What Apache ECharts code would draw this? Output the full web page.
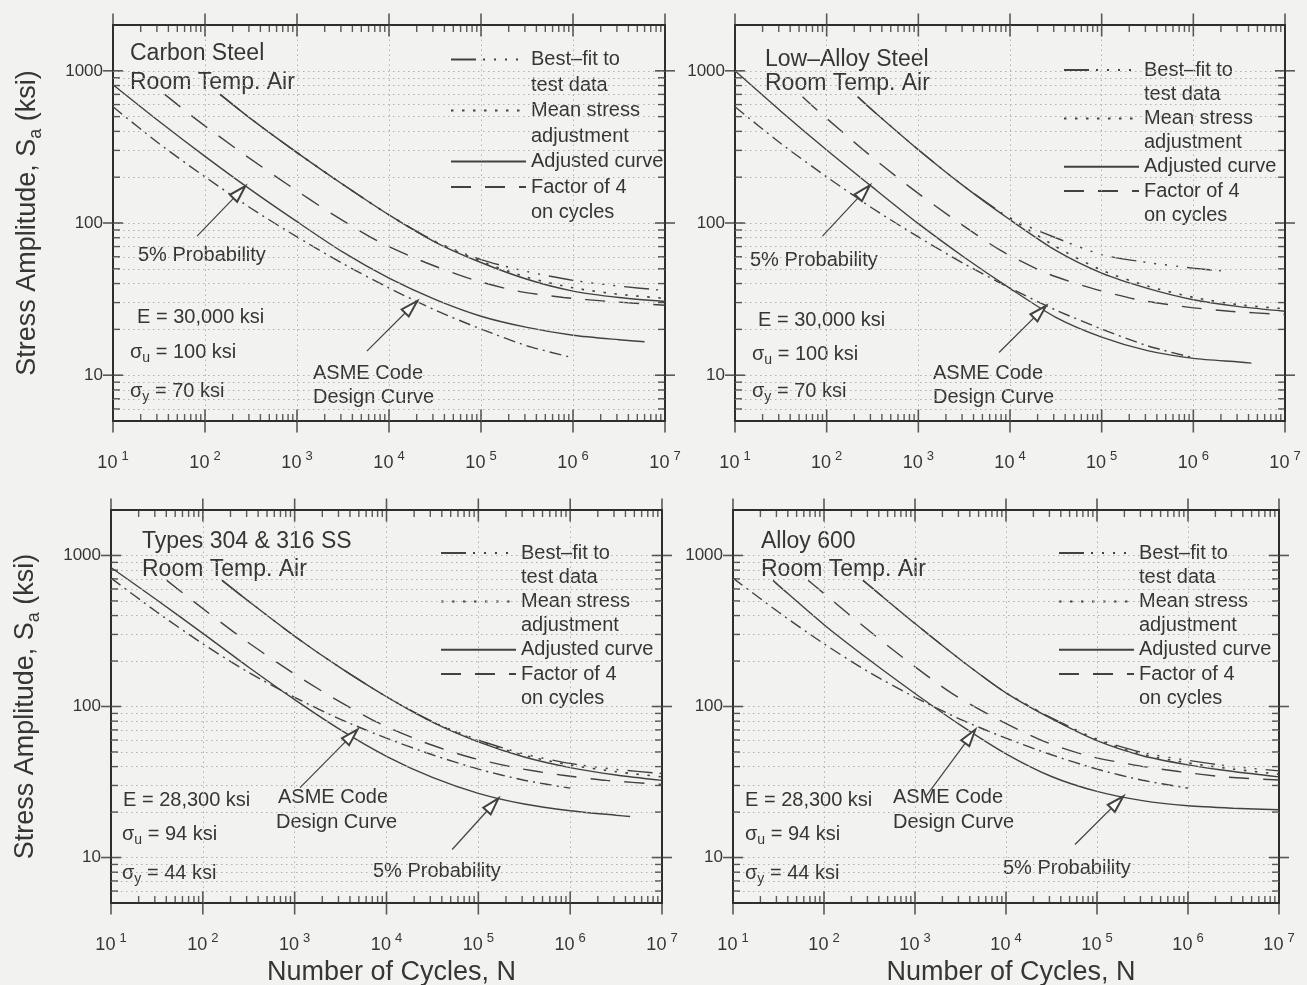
<!DOCTYPE html>
<html>
<head>
<meta charset="utf-8">
<title>Fatigue S-N curves in room-temperature air</title>
<script src="https://cdn.jsdelivr.net/npm/echarts@6/dist/echarts.min.js"></script>
<style>
  html, body { margin: 0; padding: 0; background: #f2f2f0; }
  #chart { width: 1307px; height: 985px; }
</style>
</head>
<body>
<div id="chart"></div>
<script>
// ---------- axis values ----------
const xTickExponents = [1, 2, 3, 4, 5, 6, 7];
const yTickLabels = ['10', '100', '1000'];
const minorSteps = [2, 3, 4, 5, 6, 7, 8, 9];
const X_MIN = 10, X_MAX = 1e7, Y_MIN = 5, Y_MAX = 2000;

// ---------- Carbon steel (cycles, stress amplitude in ksi) ----------
const csFitN  = [146, 316, 1000, 3160, 1e4, 31600, 1e5, 316000, 1e6, 3.16e6, 1e7];
const csFitS  = [700, 483, 290, 179, 113, 76, 57.5, 48, 42, 38.5, 36];
const csMeanN = [1000, 3160, 1e4, 31600, 1e5, 316000, 1e6, 3.16e6, 1e7];
const csMeanS = [290, 179, 113, 75.5, 56, 44, 37.5, 34, 32];
const csAdjN  = [146, 316, 1000, 3160, 1e4, 31600, 1e5, 316000, 1e6, 3.16e6, 1e7];
const csAdjS  = [700, 483, 290, 179, 113, 75, 55, 42.7, 35.7, 32.4, 30.5];
const csF4N   = [36.5, 79, 250, 790, 2500, 7900, 25000, 79000, 250000, 790000, 2.5e6, 1e7];
const csF4S   = [700, 483, 290, 179, 113, 75, 55, 42.7, 35.7, 32.4, 30.5, 28.8];
const csP5N   = [10, 31.6, 100, 316, 1000, 3160, 1e4, 31600, 1e5, 316000, 1e6, 3.16e6, 6e6];
const csP5S   = [810, 466, 274, 165, 102, 64.3, 43.4, 31.5, 24.4, 20.6, 18.3, 17.1, 16.6];

// ---------- Low-alloy steel ----------
const lasFitN  = [218, 316, 1000, 3160, 1e4, 31600, 1e5, 316000, 1e6, 2e6];
const lasFitS  = [676, 551, 303, 174, 108, 80, 62, 55, 50.5, 48.5];
const lasMeanN = [1e4, 31600, 1e5, 316000, 1e6, 3.16e6, 1e7];
const lasMeanS = [108, 70, 49, 38.5, 32.5, 29, 27.3];
const lasAdjN  = [218, 316, 1000, 3160, 1e4, 31600, 1e5, 316000, 1e6, 3.16e6, 1e7];
const lasAdjS  = [676, 551, 303, 174, 105, 66, 46.8, 37.2, 31.3, 28.2, 26.3];
const lasF4N   = [54.5, 79, 250, 790, 2500, 7900, 25000, 79000, 250000, 790000, 2.5e6, 1e7];
const lasF4S   = [676, 551, 303, 174, 105, 66, 46.8, 37.2, 31.3, 28.2, 26.3, 25];
const lasP5N   = [10, 31.6, 100, 316, 1000, 3160, 1e4, 31600, 1e5, 316000, 1e6, 3.16e6, 4.3e6];
const lasP5S   = [1000, 543, 302, 172, 99, 59.6, 37.2, 24, 17.8, 14.5, 12.9, 12.2, 12.0];

// ---------- ASME design curve for carbon & low-alloy steels ----------
const asmeCsN = [10, 31.6, 100, 316, 1000, 3160, 1e4, 31600, 1e5, 316000, 1e6];
const asmeCsS = [580, 333, 201, 125, 81, 54, 37.4, 26.8, 20.1, 15.6, 13];

// ---------- Types 304 & 316 stainless steel ----------
const ssFitN  = [162, 316, 1000, 3160, 1e4, 31600, 1e5, 316000, 1e6, 3.16e6, 1e7];
const ssFitS  = [684, 497, 292, 180, 116, 79.5, 60, 48.5, 42, 38.3, 36];
const ssMeanN = [1e4, 31600, 1e5, 316000, 1e6, 3.16e6, 1e7];
const ssMeanS = [116, 79, 59.2, 47.5, 41, 37, 34.2];
const ssAdjN  = [162, 316, 1000, 3160, 1e4, 31600, 1e5, 316000, 1e6, 3.16e6, 1e7];
const ssAdjS  = [684, 497, 292, 180, 116, 78.7, 58.3, 46.3, 39.4, 35.2, 32.4];
const ssF4N   = [40.5, 79, 250, 790, 2500, 7900, 25000, 79000, 250000, 790000, 2.5e6, 1e7];
const ssF4S   = [684, 497, 292, 180, 116, 78.7, 58.3, 46.3, 39.4, 35.2, 32.4, 30.5];
const ssP5N   = [10, 31.6, 100, 316, 1000, 3160, 1e4, 31600, 1e5, 316000, 1e6, 3.16e6, 4.5e6];
const ssP5S   = [832, 507, 305, 182, 111, 70, 46.8, 33.9, 26.6, 22.6, 20.4, 19.05, 18.7];

// ---------- Alloy 600 ----------
const a6FitN  = [268, 316, 1000, 3160, 1e4, 31600, 1e5, 316000, 1e6, 3.16e6, 1e7];
const a6FitS  = [684, 630, 354, 204, 123, 84, 61, 49.5, 44, 40, 37.5];
const a6MeanN = [1e4, 31600, 1e5, 316000, 1e6, 3.16e6, 1e7];
const a6MeanS = [123, 83.5, 60, 48.2, 42.3, 38.5, 35.6];
const a6AdjN  = [268, 316, 1000, 3160, 1e4, 31600, 1e5, 316000, 1e6, 3.16e6, 1e7];
const a6AdjS  = [684, 630, 354, 204, 123, 83, 59.4, 47.2, 41.1, 37.1, 34.2];
const a6F4N   = [67, 79, 250, 790, 2500, 7900, 25000, 79000, 250000, 790000, 2.5e6, 1e7];
const a6F4S   = [684, 630, 354, 204, 123, 83, 59.4, 47.2, 41.1, 37.1, 34.2, 32.6];
const a6P5N   = [27.5, 31.6, 100, 316, 1000, 3160, 1e4, 31600, 1e5, 316000, 1e6, 3.16e6, 1e7];
const a6P5S   = [684, 634, 348, 203, 122, 75.3, 48.6, 34.4, 27.4, 23.8, 22, 21.2, 20.7];

// ---------- ASME design curve for austenitic SS & Ni alloys ----------
const asmeSsN = [10, 31.6, 100, 316, 1000, 3160, 1e4, 31600, 1e5, 316000, 1e6];
const asmeSsS = [708, 422, 260, 168, 115, 82.2, 61.7, 47.9, 38.5, 32.5, 28.8];

// ---------- callout arrows: [tail, head] as [cycles, ksi] ----------
const csArrowP5    = [[82, 82], [272, 174]];
const csArrowAsme  = [[5750, 14.4], [20100, 30.6]];
const lasArrowP5   = [[90, 82], [293, 176]];
const lasArrowAsme = [[7590, 14.1], [24500, 28.4]];
const ssArrowAsme  = [[1145, 29], [4790, 70]];
const ssArrowP5    = [[51900, 11.3], [164000, 24.5]];
const a6ArrowAsme  = [[1290, 24.9], [4570, 70]];
const a6ArrowP5    = [[57300, 12.2], [193000, 25.3]];

// ---------- styling ----------
const INK = '#363636';
const LINE = '#424242';
const BG = '#f2f2f0';
const FONT = 'Liberation Sans, Arial, Helvetica, sans-serif';

const LEGEND_NAMES = ['Best–fit to test data', 'test data', 'Mean stress adjustment', 'adjustment',
                      'Adjusted curve', 'Factor of 4 on cycles', 'on cycles'];
const LEGEND_FIRST_LINE = {
  'Best–fit to test data': 'Best–fit to',
  'Mean stress adjustment': 'Mean stress',
  'Factor of 4 on cycles': 'Factor of 4'
};

const DASH_FIT  = [25, 7, 2, 9, 2, 9, 2, 9, 2, 9];
const DASH_MEAN = [2.5, 8.5];
const DASH_F4   = [20, 14];
const DASH_ASME = [12, 5, 2, 5];

const panels = [
  {
    grid: { left: 113, top: 25, width: 552, height: 396 },
    titles: [['Carbon Steel', 130, 53.5], ['Room Temp. Air', 130, 82.5]],
    legend: { left: 450, firstY: 59.5, line: 25, gap: 0.5 },
    fit: [csFitN, csFitS], mean: [csMeanN, csMeanS], adj: [csAdjN, csAdjS], f4: [csF4N, csF4S],
    p5: [csP5N, csP5S], asme: [asmeCsN, asmeCsS],
    arrows: [csArrowP5, csArrowAsme],
    notes: [
      ['5% Probability', 138, 255.5],
      ['E = 30,000 ksi', 137, 317.5],
      ['{g|σ}{sub|u}{t| = 100 ksi}', 130, 352.5],
      ['{g|σ}{sub|y}{t| = 70 ksi}', 130, 391],
      ['ASME Code', 313, 373.5],
      ['Design Curve', 313, 397]
    ],
    left: true, bottom: false
  },
  {
    grid: { left: 735, top: 25, width: 550, height: 396 },
    titles: [['Low–Alloy Steel', 765, 59.5], ['Room Temp. Air', 765, 83.5]],
    legend: { left: 1063, firstY: 70, line: 24, gap: 0.2 },
    fit: [lasFitN, lasFitS], mean: [lasMeanN, lasMeanS], adj: [lasAdjN, lasAdjS], f4: [lasF4N, lasF4S],
    p5: [lasP5N, lasP5S], asme: [asmeCsN, asmeCsS],
    arrows: [lasArrowP5, lasArrowAsme],
    notes: [
      ['5% Probability', 750, 260.5],
      ['E = 30,000 ksi', 758, 320],
      ['{g|σ}{sub|u}{t| = 100 ksi}', 752, 354],
      ['{g|σ}{sub|y}{t| = 70 ksi}', 752, 391.5],
      ['ASME Code', 933, 373.5],
      ['Design Curve', 933, 397]
    ],
    left: false, bottom: false
  },
  {
    grid: { left: 111, top: 510, width: 551, height: 393 },
    titles: [['Types 304 & 316 SS', 142, 541.5], ['Room Temp. Air', 142, 569.5]],
    legend: { left: 440, firstY: 553, line: 24, gap: 0.2 },
    fit: [ssFitN, ssFitS], mean: [ssMeanN, ssMeanS], adj: [ssAdjN, ssAdjS], f4: [ssF4N, ssF4S],
    p5: [ssP5N, ssP5S], asme: [asmeSsN, asmeSsS],
    arrows: [ssArrowAsme, ssArrowP5],
    notes: [
      ['E = 28,300 ksi', 123, 800],
      ['{g|σ}{sub|u}{t| = 94 ksi}', 122, 834],
      ['{g|σ}{sub|y}{t| = 44 ksi}', 122, 873],
      ['ASME Code', 278, 797],
      ['Design Curve', 276, 822],
      ['5% Probability', 373, 871.5]
    ],
    left: true, bottom: true
  },
  {
    grid: { left: 733, top: 510, width: 546, height: 393 },
    titles: [['Alloy 600', 761, 541.5], ['Room Temp. Air', 761, 569.5]],
    legend: { left: 1058, firstY: 553, line: 24, gap: 0.2 },
    fit: [a6FitN, a6FitS], mean: [a6MeanN, a6MeanS], adj: [a6AdjN, a6AdjS], f4: [a6F4N, a6F4S],
    p5: [a6P5N, a6P5S], asme: [asmeSsN, asmeSsS],
    arrows: [a6ArrowAsme, a6ArrowP5],
    notes: [
      ['E = 28,300 ksi', 745, 800],
      ['{g|σ}{sub|u}{t| = 94 ksi}', 745, 834],
      ['{g|σ}{sub|y}{t| = 44 ksi}', 745, 873],
      ['ASME Code', 893, 797],
      ['Design Curve', 893, 822],
      ['5% Probability', 1003, 868.5]
    ],
    left: false, bottom: true
  }
];

// ---------- tick and grid-line positions (axis values) ----------
const xMajor = xTickExponents.map(e => Math.pow(10, e));
const xMinor = [];
xMajor.slice(0, -1).forEach(d => minorSteps.forEach(m => xMinor.push(m * d)));
const yMajor = yTickLabels.map(Number);
const yMinor = [];
[1, 10, 100, 1000].forEach(d => minorSteps.forEach(m => {
  const v = m * d;
  if (v > Y_MIN && v < Y_MAX) yMinor.push(v);
}));

function tickMarks() {
  const out = [];
  const add = (x, y, size, off) => out.push({ value: [x, y], symbolSize: size, symbolOffset: off || [0, 0] });
  xMinor.forEach(v => { add(v, Y_MIN, [1.4, 7], [0, -3.5]); add(v, Y_MAX, [1.4, 7], [0, 3.5]); });
  xMajor.forEach(v => { add(v, Y_MIN, [1.6, 23]); add(v, Y_MAX, [1.6, 23]); });
  yMinor.forEach(v => { add(X_MIN, v, [7, 1.4], [3.5, 0]); add(X_MAX, v, [7, 1.4], [-3.5, 0]); });
  yMajor.forEach(v => { add(X_MIN, v, [20, 1.6]); add(X_MAX, v, [20, 1.6]); });
  return out;
}

const gridLineData = yMinor.concat(yMajor).map(v => ({ yAxis: v }))
  .concat(xMajor.slice(1, -1).map(v => ({ xAxis: v })));

const pairs = (N, S) => N.map((n, i) => [n, S[i]]);

function curve(name, data, dash, idx, width) {
  return {
    type: 'line', name: name, xAxisIndex: idx, yAxisIndex: idx,
    data: pairs(data[0], data[1]), symbol: 'none', showSymbol: false, smooth: 0.25,
    lineStyle: { color: LINE, width: width || 1.4, type: dash },
    itemStyle: { color: LINE },
    silent: true, animation: false, z: 3
  };
}

const grids = [], xAxes = [], yAxes = [], series = [], legends = [], graphics = [];

panels.forEach((p, i) => {
  grids.push(Object.assign({
    show: true, borderColor: '#2e2e2e', borderWidth: 2, backgroundColor: 'transparent',
    containLabel: false, outerBoundsMode: 'none'
  }, p.grid));

  xAxes.push({
    type: 'log', logBase: 10, gridIndex: i, min: X_MIN, max: X_MAX,
    axisLine: { show: false }, axisTick: { show: false }, splitLine: { show: false },
    axisLabel: {
      margin: 29, color: INK,
      formatter: v => '{b|10}{s|' + Math.round(Math.log10(v)) + '}',
      rich: {
        b: { fontSize: 18, lineHeight: 26, fontFamily: FONT, color: INK },
        s: { fontSize: 13, lineHeight: 13, verticalAlign: 'top', padding: [0, 0, 0, 4], fontFamily: FONT, color: INK }
      }
    },
    name: p.bottom ? 'Number of Cycles, N' : '',
    nameLocation: 'middle', nameGap: 56,
    nameTextStyle: { fontSize: 27, color: INK, fontFamily: FONT, padding: [0, 0, 0, 10] }
  });

  yAxes.push({
    type: 'log', logBase: 10, gridIndex: i, min: Y_MIN, max: Y_MAX, splitNumber: 3,
    axisLine: { show: false }, axisTick: { show: false }, splitLine: { show: false },
    axisLabel: {
      showMinLabel: false, showMaxLabel: false, margin: 10,
      fontSize: 17, color: INK, fontFamily: FONT,
      formatter: v => { const r = String(Math.round(v)); return yTickLabels.indexOf(r) >= 0 ? r : ''; }
    },
    name: p.left ? '{t|Stress Amplitude, S}{sub|a}{t| (ksi)}' : '',
    nameLocation: 'middle', nameRotate: 90, nameGap: 68,
    nameTextStyle: {
      rich: {
        t: { fontSize: 27, lineHeight: 34, fontFamily: FONT, color: INK },
        sub: { fontSize: 18, lineHeight: 18, verticalAlign: 'bottom', fontFamily: FONT, color: INK }
      }
    }
  });

  // dotted grid lines
  series.push({
    type: 'scatter', xAxisIndex: i, yAxisIndex: i, data: [[X_MIN, Y_MIN]], symbolSize: 0,
    silent: true, animation: false, z: 0,
    markLine: {
      silent: true, animation: false, symbol: ['none', 'none'], label: { show: false },
      lineStyle: { color: '#b2b2b0', width: 1, type: [1.5, 3.5] },
      emphasis: { disabled: true },
      data: gridLineData
    }
  });

  // frame ticks
  series.push({
    type: 'scatter', xAxisIndex: i, yAxisIndex: i, data: tickMarks(), symbol: 'rect',
    itemStyle: { color: '#333' }, silent: true, animation: false, clip: false, z: 5
  });

  series.push(curve('Best–fit to test data', p.fit, DASH_FIT, i));
  series.push(curve('Mean stress adjustment', p.mean, DASH_MEAN, i, 1.6));
  series.push(curve('Adjusted curve', p.adj, 'solid', i));
  series.push(curve('Factor of 4 on cycles', p.f4, DASH_F4, i));
  series.push(curve('ASME Code Design Curve', p.asme, DASH_ASME, i));

  const p5 = curve('5% Probability', p.p5, 'solid', i);
  p5.markLine = {
    silent: true, animation: false, label: { show: false },
    lineStyle: { color: LINE, width: 1.2, type: 'solid' },
    emphasis: { disabled: true },
    data: p.arrows.map(a => [
      { coord: a[0], symbol: 'none' },
      { coord: a[1], symbol: 'emptyTriangle', symbolSize: [10, 17], symbolOffset: [0, 8] }
    ])
  };
  series.push(p5);

  legends.push({
    orient: 'vertical', left: p.legend.left,
    top: p.legend.firstY - p.legend.line / 2,
    itemWidth: 75, itemHeight: 1, itemGap: p.legend.gap, padding: 0,
    itemStyle: { opacity: 0, borderWidth: 0 },
    backgroundColor: BG, selectedMode: false, z: 1,
    data: LEGEND_NAMES,
    formatter: name => LEGEND_FIRST_LINE[name] || name,
    textStyle: { fontSize: 20, lineHeight: p.legend.line, color: INK, fontFamily: FONT }
  });

  p.titles.forEach(t => graphics.push({
    type: 'text', x: t[1], y: t[2], z: 1,
    style: { text: t[0], fontSize: 23, fontFamily: FONT, fill: INK, verticalAlign: 'middle', align: 'left' }
  }));

  p.notes.forEach(n => graphics.push({
    type: 'text', x: n[1] - 2, y: n[2], z: 1,
    style: {
      text: n[0], fontSize: 20, fontFamily: FONT, fill: INK, verticalAlign: 'middle', align: 'left',
      backgroundColor: BG, padding: [1, 2],
      rich: {
        g: { fontSize: 20, lineHeight: 26, fontFamily: FONT, fill: INK },
        t: { fontSize: 20, lineHeight: 26, fontFamily: FONT, fill: INK },
        sub: { fontSize: 14, lineHeight: 14, verticalAlign: 'bottom', fontFamily: FONT, fill: INK }
      }
    }
  }));
});

// second-line legend entries: empty, invisible series carrying the legend text
['test data', 'adjustment', 'on cycles'].forEach(name => series.push({
  type: 'line', name: name, xAxisIndex: 0, yAxisIndex: 0, data: [], symbol: 'none',
  lineStyle: { color: 'rgba(0,0,0,0)' }, itemStyle: { color: 'rgba(0,0,0,0)' }, silent: true
}));

const chart = echarts.init(document.getElementById('chart'));
chart.setOption({
  backgroundColor: BG,
  animation: false,
  textStyle: { fontFamily: FONT },
  grid: grids, xAxis: xAxes, yAxis: yAxes,
  legend: legends,
  graphic: { elements: graphics },
  series: series
});
</script>
</body>
</html>
